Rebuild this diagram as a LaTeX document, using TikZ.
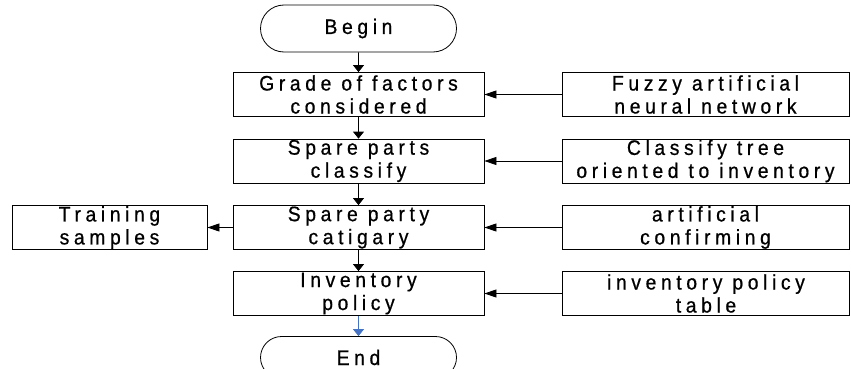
\documentclass[tikz,border=0pt]{standalone}
\usepackage{fontspec}
\setmainfont{Liberation Sans}[LetterSpace=22,FakeStretch=0.92,FakeBold=0.7]
\usetikzlibrary{shapes.misc,arrows.meta}
\definecolor{flowblue}{RGB}{68,114,196}
\tikzset{
  box/.style={draw, line width=0.8pt, inner sep=0pt, minimum height=44pt, align=center,
    font=\fontsize{21}{23}\selectfont},
  leftbox/.style={box, minimum width=251pt},
  rightbox/.style={box, minimum width=287pt},
  term/.style={draw, line width=0.8pt, rounded rectangle, inner sep=0pt, minimum width=196pt,
    minimum height=47pt, font=\fontsize{21}{23}\selectfont},
  varr/.style={line width=0.8pt, -{Triangle[length=7pt,width=11pt]}},
  harr/.style={line width=0.8pt, -{Triangle[length=12pt,width=8pt]}}
}
\begin{document}
\begin{tikzpicture}[x=1pt,y=-1pt]
\useasboundingbox (0,0) rectangle (851,369);
\clip (0,0) rectangle (851,369);
\node[term] (begin) at (358.5,28.5) {Begin};
\node[leftbox] (grade) at (358.5,94.5) {Grade of factors\\considered};
\node[rightbox] (fuzzy) at (705.5,94.5) {Fuzzy artificial\\neural network};
\node[leftbox] (spare) at (358.5,161) {Spare parts\\classify};
\node[rightbox] (tree) at (705.5,161) {Classify tree\\oriented to inventory};
\node[leftbox] (cat) at (358.5,227.5) {Spare party\\catigary};
\node[rightbox] (conf) at (705.5,227.5) {artificial\\confirming};
\node[box, minimum width=195pt] (train) at (109.5,227.5) {Training\\samples};
\node[leftbox] (inv) at (358.5,293.5) {Inventory\\policy};
\node[rightbox] (table) at (706,293.5) {inventory policy\\table};
\node[term, minimum height=42pt] (end) at (358.5,357.5) {End};
\draw[varr] (begin) -- (grade);
\draw[varr] (grade) -- (spare);
\draw[varr] (spare) -- (cat);
\draw[varr] (cat) -- (inv);
\draw[varr, draw=flowblue, fill=flowblue] (inv) -- (end);
\draw[harr] (fuzzy) -- (grade);
\draw[harr] (tree) -- (spare);
\draw[harr] (conf) -- (cat);
\draw[harr] (cat) -- (train);
\draw[harr] (table) -- (inv);
\end{tikzpicture}
\end{document}
